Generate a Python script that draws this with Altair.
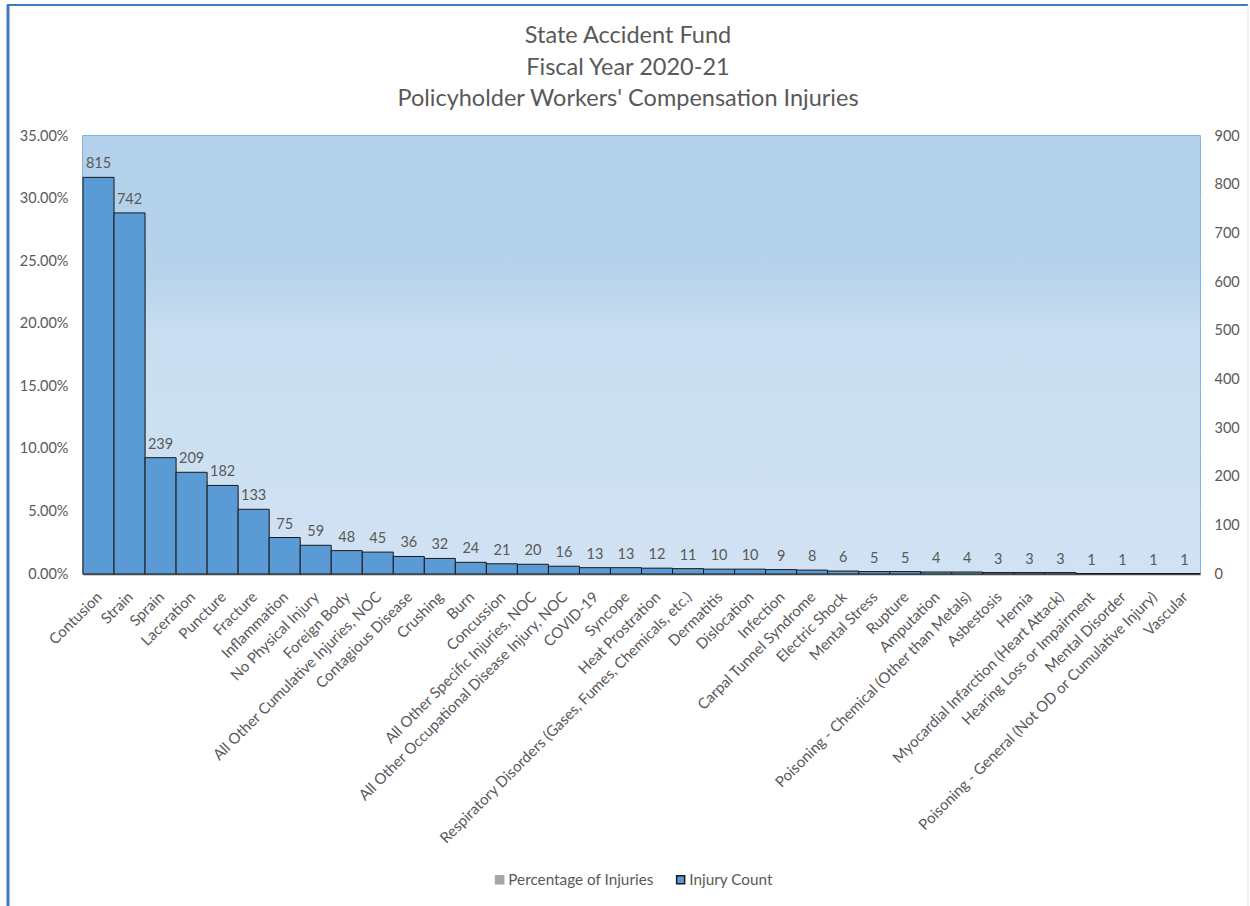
import altair as alt
import pandas as pd

categories = [
    "Contusion", "Strain", "Sprain", "Laceration", "Puncture", "Fracture",
    "Inflammation", "No Physical Injury", "Foreign Body",
    "All Other Cumulative Injuries, NOC", "Contagious Disease", "Crushing",
    "Burn", "Concussion", "All Other Specific Injuries, NOC",
    "All Other Occupational Disease Injury, NOC", "COVID-19", "Syncope",
    "Heat Prostration", "Respiratory Disorders (Gases, Fumes, Chemicals, etc.)",
    "Dermatitis", "Dislocation", "Infection", "Carpal Tunnel Syndrome",
    "Electric Shock", "Mental Stress", "Rupture", "Amputation",
    "Poisoning - Chemical (Other than Metals)", "Asbestosis", "Hernia",
    "Myocardial Infarction (Heart Attack)", "Hearing Loss or Impairment",
    "Mental Disorder", "Poisoning - General (Not OD or Cumulative Injury)",
    "Vascular",
]
counts = [815, 742, 239, 209, 182, 133, 75, 59, 48, 45, 36, 32, 24, 21, 20,
          16, 13, 13, 12, 11, 10, 10, 9, 8, 6, 5, 5, 4, 4, 3, 3, 3, 1, 1, 1, 1]
title_lines = ["State Accident Fund", "Fiscal Year 2020-21",
               "Policyholder Workers' Compensation Injuries"]
series_names = ["Percentage of Injuries", "Injury Count"]
pct_ticks = [0, 0.05, 0.10, 0.15, 0.20, 0.25, 0.30, 0.35]
count_ticks = [0, 100, 200, 300, 400, 500, 600, 700, 800, 900]

total = sum(counts)
df = pd.DataFrame({
    "category": categories,
    "count": counts,
    "pct": [c / total for c in counts],
})

W, H = 1117, 438
FONT = "Lato"
TXT = "#595959"
FS = 14.5

x_enc = alt.X("category:N", sort=categories,
              scale=alt.Scale(paddingInner=0, paddingOuter=0),
              axis=alt.Axis(title=None, labelAngle=-45, labelFontSize=15,
                            labelColor=TXT, labelFont=FONT, ticks=False,
                            domainColor="#404040", domainWidth=1.5,
                            labelPadding=15, labelOffset=-4, labelLimit=500))

legend_opts = dict(title=None, orient="none", legendX=409, legendY=736,
                   direction="horizontal", symbolType="square",
                   symbolSize=64, labelFontSize=15.3, labelColor=TXT,
                   labelFont=FONT, columnPadding=19, labelOffset=1)

color_enc = alt.Color("series:N",
                      scale=alt.Scale(domain=series_names, range=["#a5a5a5", "#5b9bd5"]),
                      legend=alt.Legend(**legend_opts))
stroke_enc = alt.Stroke("series:N",
                        scale=alt.Scale(domain=series_names, range=["#a5a5a5", "#1a1a1a"]),
                        legend=alt.Legend(**legend_opts))

bg = alt.Chart(pd.DataFrame({"a": [0]})).mark_rect(
    fill=alt.Gradient(gradient="linear", x1=0, x2=0, y1=0, y2=1,
                      stops=[alt.GradientStop(offset=0, color="#b3d1eb"),
                             alt.GradientStop(offset=0.30, color="#b5d2eb"),
                             alt.GradientStop(offset=0.46, color="#cadef1"),
                             alt.GradientStop(offset=1, color="#d0e2f3")])
).encode(x=alt.value(0), x2=alt.value(W), y=alt.value(0), y2=alt.value(H))

pct_bars = alt.Chart(df).transform_calculate(series="'Percentage of Injuries'").mark_bar(
    strokeWidth=1
).encode(
    x=x_enc,
    y=alt.Y("pct:Q", scale=alt.Scale(domain=[0, 0.35]),
            axis=alt.Axis(title=None, values=pct_ticks, format=".2%", orient="left",
                          labelFontSize=FS, labelColor=TXT, labelFont=FONT,
                          domain=False, ticks=False, grid=True, gridColor="#d9d9d9",
                          gridWidth=1.2, labelPadding=15)),
    color=color_enc,
    stroke=stroke_enc,
)

count_bars = alt.Chart(df).transform_calculate(series="'Injury Count'").mark_bar(
    strokeWidth=1
).encode(
    x=x_enc,
    y=alt.Y("count:Q", scale=alt.Scale(domain=[0, 900]),
            axis=alt.Axis(title=None, values=count_ticks, orient="right",
                          labelFontSize=FS, labelColor=TXT, labelFont=FONT,
                          domain=False, ticks=False, grid=False, labelPadding=14)),
    color=color_enc,
    stroke=stroke_enc,
)

count_labels = alt.Chart(df).mark_text(
    dy=-13, fontSize=FS, font=FONT, color=TXT
).encode(
    x=alt.X("category:N", sort=categories),
    y=alt.Y("count:Q"),
    text=alt.Text("count:Q"),
)

count_layer = alt.layer(count_bars, count_labels)

title_layers = []
for i, line in enumerate(title_lines):
    title_layers.append(
        alt.Chart(pd.DataFrame({"t": [line]})).mark_text(
            fontSize=23.5, font=FONT, color=TXT, align="center", baseline="middle"
        ).encode(x=alt.value(545), y=alt.value(-100 + 31.5 * i), text="t:N")
    )

frame = pd.DataFrame({"a": [0]})
left_border = alt.Chart(frame).mark_rule(color="#3c7bc2", strokeWidth=3).encode(
    x=alt.value(-75), y=alt.value(-131), y2=alt.value(775))
top_border = alt.Chart(frame).mark_rule(color="#3c7bc2", strokeWidth=2).encode(
    x=alt.value(-76), x2=alt.value(1165), y=alt.value(-131))
right_border = alt.Chart(frame).mark_rule(color="#e0e0e0", strokeWidth=1).encode(
    x=alt.value(1165), y=alt.value(-131), y2=alt.value(775))

chart = alt.layer(
    bg, pct_bars, count_layer, left_border, top_border, right_border, *title_layers
).resolve_scale(
    y="independent"
).properties(
    width=W, height=H,
    autosize=alt.AutoSizeParams(type="none"),
    padding={"left": 83, "top": 136, "right": 50, "bottom": 332},
    background="white",
).configure_view(
    stroke="#5b9bd5", strokeWidth=1.5
)

chart.save("out.html", embed_options={"renderer": "svg", "actions": False})
